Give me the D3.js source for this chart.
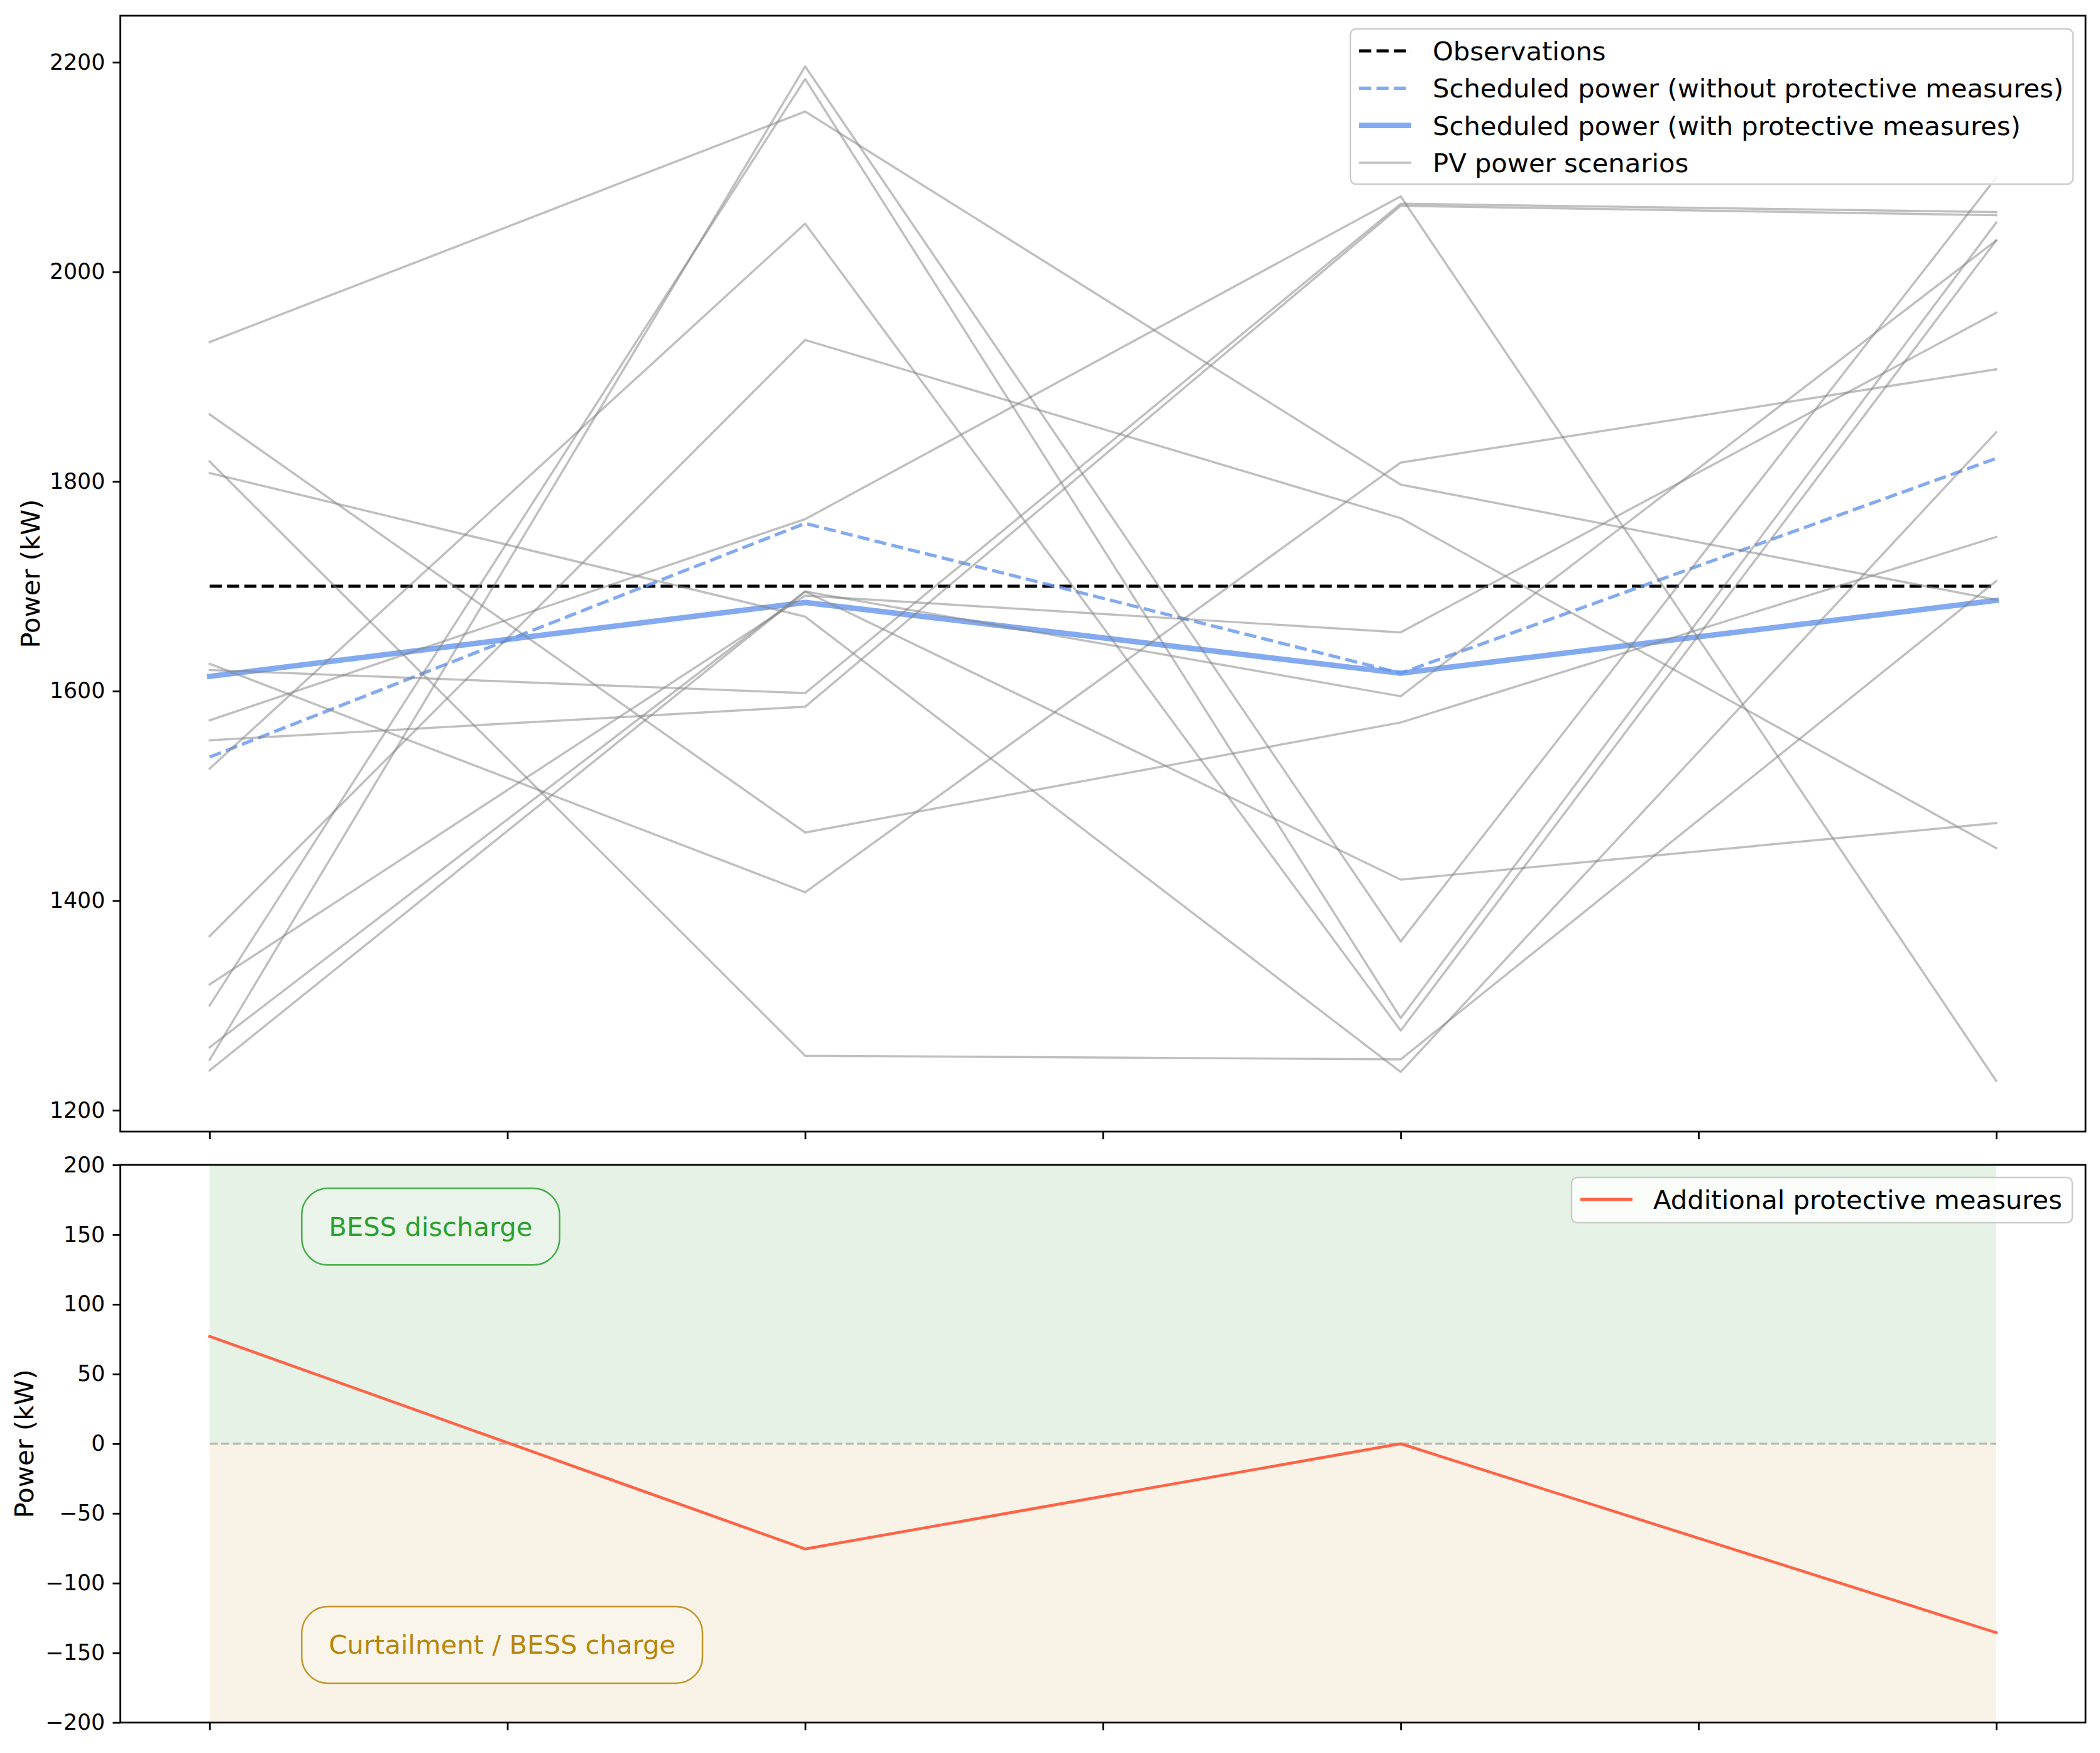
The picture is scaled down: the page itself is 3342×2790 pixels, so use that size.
<!DOCTYPE html>
<html>
<head>
<meta charset="utf-8">
<script src="https://cdn.jsdelivr.net/npm/d3@7"></script>
<style>
  html, body { margin: 0; padding: 0; background: #ffffff; }
  svg { display: block; }
  text { font-family: "DejaVu Sans", sans-serif; }
</style>
</head>
<body>
<svg id="chart" width="3342" height="2790"></svg>
<script>
// ---------------- DATA ----------------
const timeSteps = [0, 1, 2, 3];
const xTickValues = [0, 0.5, 1, 1.5, 2, 2.5, 3];

const observations = [1700, 1700, 1700, 1700];
const scheduledWithout = [1537, 1760, 1617, 1822];
const scheduledWith = [1614, 1684.5, 1617, 1686.5];
const additionalMeasures = [77, -75.5, 0, -135.5];

const pvScenarios = [
  [1933, 2153, 1797, 1687],
  [1864, 1465, 1570, 1747],
  [1819, 1252, 1248.5, 1705],
  [1808, 1671, 1236.5, 1847],
  [1626, 1408, 1818, 1907],
  [1620, 1598, 2065, 2057],
  [1572, 1764, 2072, 1228],
  [1553, 1585, 2063, 2054],
  [1526, 2046, 1276, 2030],
  [1366, 1935, 1765, 1450],
  [1320, 1691, 1656, 1961],
  [1300, 2184, 1288, 2047],
  [1260, 1695, 1595, 2030],
  [1248, 2196, 1361, 2090],
  [1238, 1695, 1420, 1474]
];

const topYTicks = [1200, 1400, 1600, 1800, 2000, 2200];
const bottomYTicks = [-200, -150, -100, -50, 0, 50, 100, 150, 200];
const bottomYDomain = [-200, 200];

const topLegendLabels = [
  "Observations",
  "Scheduled power (without protective measures)",
  "Scheduled power (with protective measures)",
  "PV power scenarios"
];
const bottomLegendLabels = ["Additional protective measures"];
const regionLabels = ["BESS discharge", "Curtailment / BESS charge"];
const yLabel = "Power (kW)";

// ---------------- LAYOUT ----------------
const svg = d3.select("#chart");
const plotL = 191.5, plotR = 3319;
const top1 = 25, bot1 = 1801;
const top2 = 1854, bot2 = 2741.5;
const tickFont = 34.7, bigFont = 41.7;
const px = 250 / 72; // pixels per point

const xExt = d3.extent(timeSteps);
const xPad = (xExt[1] - xExt[0]) * 0.05;
const x = d3.scaleLinear().domain([xExt[0] - xPad, xExt[1] + xPad]).range([plotL, plotR]);

const allTop = pvScenarios.flat().concat(observations, scheduledWithout, scheduledWith);
const yExt = d3.extent(allTop);
const yPad = (yExt[1] - yExt[0]) * 0.05;
const yT = d3.scaleLinear().domain([yExt[0] - yPad, yExt[1] + yPad]).range([bot1, top1]);
const yB = d3.scaleLinear().domain(bottomYDomain).range([bot2, top2]);

const fmtMinus = d => d < 0 ? "\u2212" + Math.abs(d) : String(d);

function styleAxis(g) {
  g.select(".domain").remove();
  g.selectAll(".tick line").attr("stroke", "#000").attr("stroke-width", 0.8 * px);
  g.selectAll(".tick text").attr("fill", "#000").style("font-size", tickFont + "px")
    .style("font-family", "DejaVu Sans, sans-serif");
}

// ---------------- TOP PANEL ----------------
const gTop = svg.append("g");
const lineTop = d3.line().x((d, i) => x(timeSteps[i])).y(d => yT(d));

gTop.append("path").attr("d", lineTop(observations))
  .attr("fill", "none").attr("stroke", "#000").attr("stroke-width", 1.5 * px)
  .attr("stroke-dasharray", `${3.7 * 1.5 * px},${1.6 * 1.5 * px}`);

gTop.append("path").attr("d", lineTop(scheduledWithout))
  .attr("fill", "none").attr("stroke", "cornflowerblue").attr("stroke-opacity", 0.8)
  .attr("stroke-width", 1.5 * px).attr("stroke-linejoin", "round")
  .attr("stroke-dasharray", `${3.7 * 1.5 * px},${1.6 * 1.5 * px}`);

gTop.append("path").attr("d", lineTop(scheduledWith))
  .attr("fill", "none").attr("stroke", "cornflowerblue").attr("stroke-opacity", 0.8)
  .attr("stroke-width", 2.5 * px).attr("stroke-linejoin", "round").attr("stroke-linecap", "square");

gTop.selectAll("path.scen").data(pvScenarios).join("path").attr("class", "scen")
  .attr("d", d => lineTop(d))
  .attr("fill", "none").attr("stroke", "gray").attr("stroke-opacity", 0.5)
  .attr("stroke-width", 1 * px).attr("stroke-linejoin", "round").attr("stroke-linecap", "square");

// axes top
gTop.append("g").attr("transform", `translate(${plotL},0)`)
  .call(d3.axisLeft(yT).tickValues(topYTicks).tickSize(3.5 * px).tickPadding(3.5 * px).tickFormat(fmtMinus))
  .call(styleAxis);
gTop.append("g").attr("transform", `translate(0,${bot1})`)
  .call(d3.axisBottom(x).tickValues(xTickValues).tickSize(3.5 * px).tickFormat(""))
  .call(styleAxis);
gTop.append("rect").attr("x", plotL).attr("y", top1).attr("width", plotR - plotL).attr("height", bot1 - top1)
  .attr("fill", "none").attr("stroke", "#000").attr("stroke-width", 0.8 * px);

gTop.append("text").attr("transform", `translate(63,${(top1 + bot1) / 2}) rotate(-90)`)
  .attr("text-anchor", "middle").style("font-size", bigFont + "px").attr("fill", "#000").text(yLabel);

// legend top
const lgT = gTop.append("g");
const lgX = 2149, lgY = 46, lgW = 3299 - 2149, lgH = 293 - 46;
lgT.append("rect").attr("x", lgX).attr("y", lgY).attr("width", lgW).attr("height", lgH)
  .attr("rx", 9).attr("fill", "#fff").attr("fill-opacity", 0.8).attr("stroke", "#cccccc").attr("stroke-width", 2.5);
const legendStyles = [
  { color: "#000", op: 1, w: 1.5 * px, dash: `${3.7 * 1.5 * px},${1.6 * 1.5 * px}` },
  { color: "cornflowerblue", op: 0.8, w: 1.5 * px, dash: `${3.7 * 1.5 * px},${1.6 * 1.5 * px}` },
  { color: "cornflowerblue", op: 0.8, w: 2.5 * px, dash: null },
  { color: "gray", op: 0.5, w: 1 * px, dash: null }
];
const rowY0 = 81, rowStep = 59.3;
topLegendLabels.forEach((lab, i) => {
  const cy = rowY0 + i * rowStep;
  const st = legendStyles[i];
  const ln = lgT.append("line").attr("x1", 2163).attr("x2", 2246).attr("y1", cy).attr("y2", cy)
    .attr("stroke", st.color).attr("stroke-opacity", st.op).attr("stroke-width", st.w);
  if (st.dash) ln.attr("stroke-dasharray", st.dash);
  lgT.append("text").attr("x", 2280).attr("y", cy).attr("dy", "0.36em")
    .style("font-size", bigFont + "px").attr("fill", "#000").text(lab);
});

// ---------------- BOTTOM PANEL ----------------
const gBot = svg.append("g");
gBot.append("rect").attr("x", x(xExt[0])).attr("width", x(xExt[1]) - x(xExt[0]))
  .attr("y", yB(bottomYDomain[1])).attr("height", yB(0) - yB(bottomYDomain[1]))
  .attr("fill", "green").attr("fill-opacity", 0.1);
gBot.append("rect").attr("x", x(xExt[0])).attr("width", x(xExt[1]) - x(xExt[0]))
  .attr("y", yB(0)).attr("height", yB(bottomYDomain[0]) - yB(0))
  .attr("fill", "darkgoldenrod").attr("fill-opacity", 0.1);

gBot.append("line").attr("x1", x(xExt[0])).attr("x2", x(xExt[1])).attr("y1", yB(0)).attr("y2", yB(0))
  .attr("stroke", "gray").attr("stroke-opacity", 0.5).attr("stroke-width", 1 * px)
  .attr("stroke-dasharray", `${3.7 * px},${1.6 * px}`);

const lineBot = d3.line().x((d, i) => x(timeSteps[i])).y(d => yB(d));
gBot.append("path").attr("d", lineBot(additionalMeasures))
  .attr("fill", "none").attr("stroke", "tomato").attr("stroke-width", 1.3 * px)
  .attr("stroke-linejoin", "round").attr("stroke-linecap", "square");

// region labels
const regionStyles = [
  { color: "#2ca02c", xv: 0.2, yv: 156 },
  { color: "#b8860b", xv: 0.2, yv: -144 }
];
regionLabels.forEach((lab, i) => {
  const st = regionStyles[i];
  const g = gBot.append("g");
  const rect = g.append("rect");
  const t = g.append("text").attr("x", x(st.xv)).attr("y", yB(st.yv) + 0.365 * bigFont)
    .style("font-size", bigFont + "px").attr("fill", st.color).text(lab);
  const bb = t.node().getBBox();
  const padX = 43, padY = 36.5;
  rect.attr("x", bb.x - padX).attr("y", bb.y - padY).attr("width", bb.width + 2 * padX).attr("height", bb.height + 2 * padY)
    .attr("rx", 42).attr("fill", "#fff").attr("fill-opacity", 0.2)
    .attr("stroke", st.color).attr("stroke-opacity", 0.85).attr("stroke-width", 2.5);
});

// axes bottom
gBot.append("g").attr("transform", `translate(${plotL},0)`)
  .call(d3.axisLeft(yB).tickValues(bottomYTicks).tickSize(3.5 * px).tickPadding(3.5 * px).tickFormat(fmtMinus))
  .call(styleAxis);
gBot.append("g").attr("transform", `translate(0,${bot2})`)
  .call(d3.axisBottom(x).tickValues(xTickValues).tickSize(3.5 * px).tickFormat(""))
  .call(styleAxis);
gBot.append("rect").attr("x", plotL).attr("y", top2).attr("width", plotR - plotL).attr("height", bot2 - top2)
  .attr("fill", "none").attr("stroke", "#000").attr("stroke-width", 0.8 * px);

gBot.append("text").attr("transform", `translate(53,${(top2 + bot2) / 2}) rotate(-90)`)
  .attr("text-anchor", "middle").style("font-size", bigFont + "px").attr("fill", "#000").text(yLabel);

// legend bottom
const lgB = gBot.append("g");
lgB.append("rect").attr("x", 2501).attr("y", 1874).attr("width", 3298 - 2501).attr("height", 1946 - 1874)
  .attr("rx", 9).attr("fill", "#fff").attr("fill-opacity", 0.8).attr("stroke", "#cccccc").attr("stroke-width", 2.5);
bottomLegendLabels.forEach((lab, i) => {
  const cy = 1909 + i * rowStep;
  lgB.append("line").attr("x1", 2515).attr("x2", 2598).attr("y1", cy).attr("y2", cy)
    .attr("stroke", "tomato").attr("stroke-width", 1.5 * px);
  lgB.append("text").attr("x", 2631).attr("y", cy).attr("dy", "0.36em")
    .style("font-size", bigFont + "px").attr("fill", "#000").text(lab);
});
</script>
</body>
</html>
